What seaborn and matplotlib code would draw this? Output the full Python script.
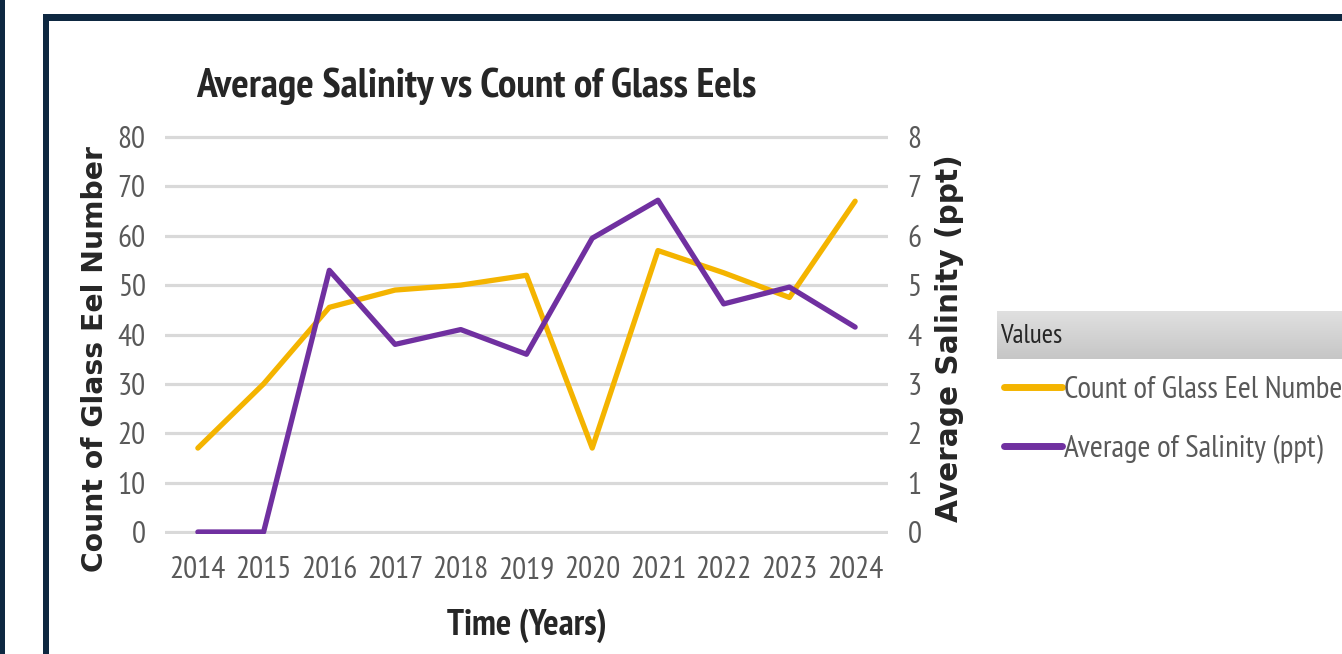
import matplotlib
matplotlib.use("Agg")
import matplotlib.pyplot as plt
from matplotlib import font_manager as fm
from matplotlib.colors import LinearSegmentedColormap
from matplotlib.patches import Rectangle
import seaborn as sns
import numpy as np
import pandas as pd

# ---------------- data ----------------
years = [2014, 2015, 2016, 2017, 2018, 2019, 2020, 2021, 2022, 2023, 2024]
eel_counts = [17, 30, 45.5, 49, 50, 52, 17, 57, 52.5, 47.5, 67]
salinity = [0, 0, 5.3, 3.8, 4.1, 3.6, 5.95, 6.72, 4.62, 4.96, 4.15]
left_ticks = [0, 10, 20, 30, 40, 50, 60, 70, 80]
right_ticks = [0, 1, 2, 3, 4, 5, 6, 7, 8]

title_text = "Average Salinity vs Count of Glass Eels"
xlabel_text = "Time (Years)"
ylabel_left = "Count of Glass Eel Number"
ylabel_right = "Average Salinity (ppt)"
legend_title = "Values"
series_names = ["Count of Glass Eel Number", "Average of Salinity (ppt)"]

# ---------------- fonts ----------------
sns.set_style("white")
avail = {}
for f in fm.fontManager.ttflist:
    avail.setdefault(f.name, set()).add(f.weight if isinstance(f.weight, int) else 400)
NARROW = "Liberation Sans"
for cand in ["Liberation Sans Narrow", "Arial Narrow", "Archivo Narrow", "PT Sans Narrow",
             "Roboto Condensed", "Pragati Narrow", "Fira Sans Condensed", "Sofia Sans Condensed",
             "Encode Sans Condensed", "IBM Plex Sans Condensed"]:
    if cand in avail and any(w >= 600 for w in avail[cand]) and any(w <= 450 for w in avail[cand]):
        NARROW = cand
        break
WIDE = "DejaVu Sans"
plt.rcParams['font.family'] = [NARROW, 'Liberation Sans', 'DejaVu Sans']

GOLD = "#F4B400"
PURPLE = "#7030A0"
NAVY = "#0E2841"
TICK_GREY = "#595959"
GRID = "#D9D9D9"

W, H = 1342, 654
fig = plt.figure(figsize=(W / 100, H / 100), dpi=100)
fig.patch.set_facecolor("white")
renderer = fig.canvas.get_renderer()


def fx(px):
    return px / W


def fy(py):
    return 1 - py / H


def size_for(text, target, family, weight="normal", vertical=False):
    t = fig.text(0, 0, text, fontsize=20, family=family, fontweight=weight,
                 rotation=90 if vertical else 0)
    bb = t.get_window_extent(renderer)
    t.remove()
    cur = bb.height if vertical else bb.width
    return 20 * target / cur


fs_tick = size_for("2014", 56, NARROW)
fs_title = size_for(title_text, 560, NARROW, "bold")
fs_xlab = size_for(xlabel_text, 160, NARROW, "bold")
fs_ylab_l = size_for(ylabel_left, 425, WIDE, "bold", vertical=True)
fs_ylab_r = size_for(ylabel_right, 368, WIDE, "bold", vertical=True)
fs_leg = size_for(series_names[1], 259, NARROW)
fs_hdr = size_for(legend_title, 62, NARROW)

# frame decoration
fig.add_artist(Rectangle((0, 0), fx(4.5), 1, transform=fig.transFigure, color=NAVY, lw=0))
fig.add_artist(Rectangle((fx(43), 0), fx(6), fy(14), transform=fig.transFigure, color=NAVY, lw=0))
fig.add_artist(Rectangle((fx(43), fy(21)), 1 - fx(43), fy(14) - fy(21),
                         transform=fig.transFigure, color=NAVY, lw=0))

# plot area: y=0 at px 532, y=80 at px 137
ppu = (532 - 137) / 80.0
ext = 2 / ppu
ax = fig.add_axes([fx(165), fy(534), fx(888) - fx(165), fy(135) - fy(534)])
df = pd.DataFrame({"Year": years, "Count": eel_counts, "Salinity": salinity})

sns.lineplot(data=df, x="Year", y="Count", ax=ax, color=GOLD, lw=3.8, legend=False,
             solid_capstyle="round", solid_joinstyle="round")
ax2 = ax.twinx()
sns.lineplot(data=df, x="Year", y="Salinity", ax=ax2, color=PURPLE, lw=3.8, legend=False,
             solid_capstyle="round", solid_joinstyle="round")

ax.set_xlim(2013.5, 2024.5)
ax.set_ylim(-ext, 80 + ext)
ax2.set_ylim(-ext / 10, 8 + ext / 10)
ax.set_xticks(years)
ax.set_xticklabels([str(y) for y in years])
ax.set_yticks(left_ticks)
ax2.set_yticks(right_ticks)

ax.yaxis.grid(True, color=GRID, lw=2.3)
ax.xaxis.grid(False)
ax2.grid(False)
ax.set_axisbelow(True)
ax2.patch.set_visible(False)
for a in (ax, ax2):
    for s in a.spines.values():
        s.set_visible(False)

ax.tick_params(axis="y", length=0, pad=14, labelsize=fs_tick, labelcolor=TICK_GREY)
ax.tick_params(axis="x", length=0, pad=16, labelsize=fs_tick, labelcolor=TICK_GREY)
ax2.tick_params(axis="y", length=0, pad=14, labelsize=fs_tick, labelcolor=TICK_GREY)

# axis labels
ax.set_ylabel(ylabel_left, fontsize=fs_ylab_l, fontweight="bold", family=[WIDE])
ax.yaxis.set_label_coords((95 - 165) / 723, (532 - 359) / 395)
ax.yaxis.label.set_verticalalignment("center")

ax2.set_ylabel(ylabel_right, fontsize=fs_ylab_r, fontweight="bold", family=[WIDE],
               rotation=90)
ax2.yaxis.set_label_coords((950 - 165) / 723, (532 - 338) / 395)
ax2.yaxis.label.set_verticalalignment("center")

ax.set_xlabel(xlabel_text, fontsize=fs_xlab, fontweight="bold")
ax.xaxis.set_label_coords((527 - 165) / 723, (532 - 623) / 395)
ax.xaxis.label.set_verticalalignment("center")

t = ax.set_title(title_text, fontsize=fs_title, fontweight="bold",
                 x=(476 - 165) / 723, y=(532 - 89) / 395, pad=0)
t.set_verticalalignment("center")

# legend header with gradient
hdr = fig.add_axes([fx(997), fy(359), 1 - fx(997), fy(311) - fy(359)])
grad = np.linspace(0, 1, 64).reshape(-1, 1)
cmap = LinearSegmentedColormap.from_list("hdr", ["#E0E0E0", "#C6C6C6"])
hdr.imshow(grad, aspect="auto", cmap=cmap, extent=[0, 1, 0, 1], origin="upper")
hdr.set_axis_off()
fig.text(fx(1000), fy(336), legend_title, fontsize=fs_hdr, color="#262626", va="center", ha="left")

handles = [ax.lines[0], ax2.lines[0]]
leg = fig.legend(handles, series_names, loc="center left",
                 bbox_to_anchor=(fx(1004), fy(420)), bbox_transform=fig.transFigure,
                 frameon=False, fontsize=fs_leg, handlelength=58 / (fs_leg * 100 / 72),
                 handletextpad=0.05, labelspacing=1.0, borderpad=0, borderaxespad=0)
for txt in leg.get_texts():
    txt.set_color(TICK_GREY)
for hl in leg.get_lines():
    hl.set_linewidth(5)

fig.savefig("out.png", dpi=100, facecolor="white")
